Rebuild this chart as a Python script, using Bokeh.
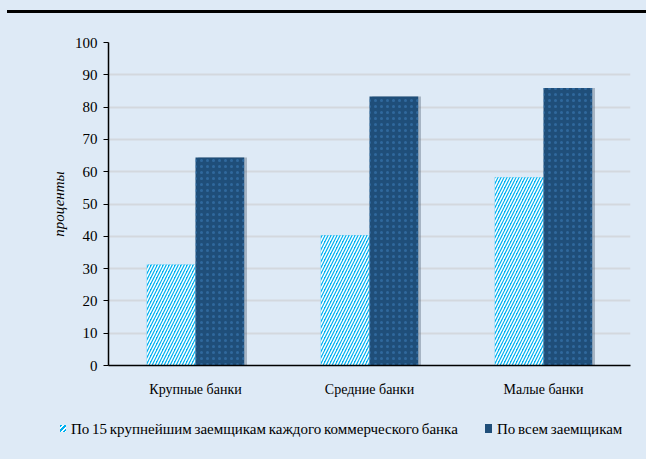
from bokeh.plotting import figure
from bokeh.models import ColumnDataSource, FixedTicker, Div, Range1d
from bokeh.layouts import column
from bokeh.transform import dodge
from bokeh.embed import file_html
from bokeh.resources import INLINE

categories = ["Крупные банки", "Средние банки", "Малые банки"]
top15 = [31.3, 40.3, 58.3]
all_borrowers = [64.4, 83.3, 85.9]
y_ticks = [0, 10, 20, 30, 40, 50, 60, 70, 80, 90, 100]
series_names = ["По 15 крупнейшим заемщикам каждого коммерческого банка", "По всем заемщикам"]
series_colors = ["#00B0F0", "#1F4E79"]

BG = "#DEEAF6"
FONT = "Liberation Serif"

xs = [i + 0.5 for i in range(len(categories))]
src = ColumnDataSource(dict(x=xs, a=top15, b=all_borrowers))

p = figure(width=646, height=390, output_backend="svg", toolbar_location=None,
           x_range=Range1d(0, len(categories)), y_range=Range1d(0, 100),
           min_border_left=108, min_border_right=16, min_border_top=29, min_border_bottom=38)
p.background_fill_color = BG
p.border_fill_color = BG
p.outline_line_color = None

bw = 0.28
# soft shadow for dark bars
p.vbar(x=dodge("x", bw / 2 + 0.016, range=p.x_range), top="b", width=bw, bottom=0, source=src,
       fill_color="#56677a", fill_alpha=0.4, line_color=None)
p.vbar(x=dodge("x", -bw / 2, range=p.x_range), top="a", width=bw, bottom=0, source=src,
       fill_color=series_colors[0], line_color=None,
       hatch_pattern="/", hatch_color="white", hatch_scale=6, hatch_weight=1.5)
p.vbar(x=dodge("x", bw / 2, range=p.x_range), top="b", width=bw, bottom=0, source=src,
       fill_color=series_colors[1], line_color=None,
       hatch_pattern=".", hatch_color="#3D7DBA", hatch_scale=6, hatch_weight=1.5, hatch_alpha=0.55)

# axes
p.xgrid.grid_line_color = None
p.ygrid.grid_line_color = "#D3D8DE"
p.ygrid.grid_line_width = 2
p.yaxis.ticker = FixedTicker(ticks=y_ticks)
p.yaxis.axis_line_color = "black"
p.yaxis.axis_line_width = 1.5
p.yaxis.major_tick_line_color = "black"
p.yaxis.major_tick_out = 5
p.yaxis.major_tick_in = 0
p.yaxis.minor_tick_line_color = None
p.yaxis.major_label_text_font = FONT
p.yaxis.major_label_text_font_size = "15px"
p.yaxis.major_label_text_color = "black"
p.yaxis.major_label_standoff = 6
p.yaxis.axis_label = "проценты"
p.yaxis.axis_label_text_font = FONT
p.yaxis.axis_label_text_font_style = "italic"
p.yaxis.axis_label_text_font_size = "15px"
p.yaxis.axis_label_text_color = "black"
p.yaxis.axis_label_standoff = 5

p.xaxis.ticker = FixedTicker(ticks=xs)
p.xaxis.major_label_overrides = {x: c for x, c in zip(xs, categories)}
p.xaxis.axis_line_color = "black"
p.xaxis.axis_line_width = 1.5
p.xaxis.major_tick_line_color = None
p.xaxis.minor_tick_line_color = None
p.xaxis.major_label_text_font = FONT
p.xaxis.major_label_text_font_size = "14px"
p.xaxis.major_label_text_color = "black"
p.xaxis.major_label_standoff = 10

# legend strip (HTML, so the wide legend is not clipped by the plot frame)
icon_a = ("position:absolute;left:60px;top:22px;width:6px;height:7px;"
          "background:repeating-linear-gradient(135deg,%s 0px,%s 2px,#fff 2px,#fff 3.2px);"
          % (series_colors[0], series_colors[0]))
icon_b = ("position:absolute;left:485px;top:21px;width:7px;height:9px;"
          "background-color:%s;" % series_colors[1])
txt = ("position:absolute;top:18px;line-height:17px;white-space:nowrap;font-family:'%s';"
       "font-size:15px;color:#000;word-spacing:-1px;" % FONT)
legend_html = (
    '<div style="position:relative;width:646px;height:56px;">'
    f'<span style="{icon_a}"></span>'
    f'<span style="{txt}left:71px;">{series_names[0]}</span>'
    f'<span style="{icon_b}"></span>'
    f'<span style="{txt}left:497px;">{series_names[1]}</span>'
    '</div>'
)
lg = Div(text=legend_html, width=646, height=56,
         styles={"background-color": BG}, margin=0)

line = Div(width=639, height=3, styles={"background-color": "black"}, margin=(10, 0, 0, 7))
top_strip = column(line, width=646, height=13, styles={"background-color": BG}, spacing=0)
layout = column(top_strip, p, lg, spacing=0, styles={"background-color": BG})

open("out.html", "w").write(file_html(layout, INLINE))
